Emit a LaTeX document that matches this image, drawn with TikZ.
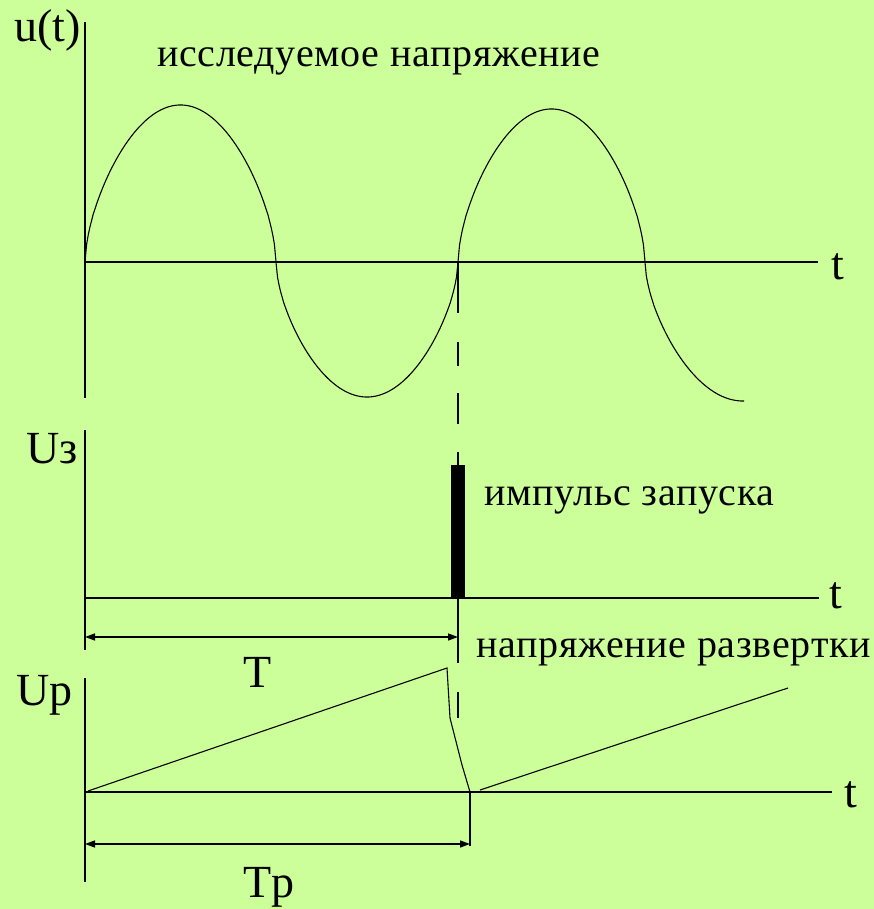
\documentclass[tikz,border=0pt]{standalone}
\usepackage{fontspec}
\setmainfont{Liberation Serif}
\newfontfamily\spaced[LetterSpace=1.8]{Liberation Serif}
\usetikzlibrary{arrows.meta}
\definecolor{bg}{RGB}{204,255,153}
\tikzset{
  axis/.style={line width=1.6pt, black},
  curve/.style={line width=1.1pt, black},
  guide/.style={line width=1.4pt, black},
  dim/.style={line width=1.4pt, black, {Triangle[length=10pt,width=7pt]}-{Triangle[length=10pt,width=7pt]}},
  lbl/.style={inner sep=0pt, anchor=base west, font=\fontsize{46}{50}\selectfont},
  txt/.style={inner sep=0pt, anchor=base west, font=\spaced\fontsize{40}{44}\selectfont},
}
\begin{document}
\begin{tikzpicture}[x=1pt,y=-1pt]
\fill[bg] (0,0) rectangle (874,909);
\useasboundingbox (0,0) rectangle (874,909);

% ---------- top graph ----------
\coordinate (a1t) at (85,22);
\coordinate (a1b) at (85,398);
\coordinate (x1l) at (85,262);
\coordinate (x1r) at (818,262);
\draw[axis] (a1t) -- (a1b);
\draw[axis] (x1l) -- (x1r);
\node[lbl] (t1) at (831,279) {t};
\node[lbl] (ut) at (14,42) {u(t)};
\node[txt] (txt1) at (157,67) {исследуемое напряжение};

\draw[curve] plot[domain=0:191, samples=120] ({85+\x}, {262-157*pow(max(sin(\x/191*180),0.00001),0.6)});
\draw[curve] plot[domain=0:182, samples=120] ({276+\x}, {262+135*pow(max(sin(\x/182*180),0.00001),0.6)});
\draw[curve] plot[domain=0:187, samples=120] ({458+\x}, {262-153*pow(max(sin(\x/187*180),0.00001),0.6)});
\draw[curve] plot[domain=0:99, samples=80] ({645+\x}, {262+139*pow(max(sin(\x/196*180),0.00001),0.6)});

% dashed guide
\draw[guide] (458,262) -- (458,313);
\draw[guide] (458,342) -- (458,366);
\draw[guide] (458,393) -- (458,424);
\draw[guide] (458,452) -- (458,465);

% ---------- middle graph ----------
\coordinate (a2t) at (85,430);
\coordinate (a2b) at (85,650);
\coordinate (x2l) at (85,598);
\coordinate (x2r) at (819,598);
\draw[axis] (a2t) -- (a2b);
\draw[axis] (x2l) -- (x2r);
\node[lbl] (t2) at (829,608) {t};
\node[lbl] (uz) at (26,463) {Uз};
\fill[black] (451,465) rectangle (465,598);
\node[txt] (txt2) at (484,505) {импульс запуска};

\coordinate (tl) at (85,637);
\coordinate (tr) at (458,637);
\draw[guide] (458,598) -- (458,663);
\draw[guide] (458,692) -- (458,718);
\draw[dim] (tl) -- (tr);
\node[lbl] (T) at (243,687) {T};
\node[txt] (txt3) at (476,657) {напряжение развертки};

% ---------- bottom graph ----------
\coordinate (a3t) at (85,678);
\coordinate (a3b) at (85,882);
\coordinate (x3l) at (85,792);
\coordinate (x3r) at (832,792);
\draw[axis] (a3t) -- (a3b);
\draw[axis] (x3l) -- (x3r);
\node[lbl] (t3) at (844,807) {t};
\node[lbl] (up) at (16,705) {Up};

\draw[curve] (88,791) -- (447,668) -- (450,718) -- (462,765) -- (470,792);
\draw[curve] (480,790) -- (788,688);
\draw[guide] (470,792) -- (470,846);
\coordinate (tpl) at (85,844);
\coordinate (tpr) at (470,844);
\draw[dim] (tpl) -- (tpr);
\node[lbl] (Tp) at (243,897) {Tp};
\end{tikzpicture}
\end{document}
